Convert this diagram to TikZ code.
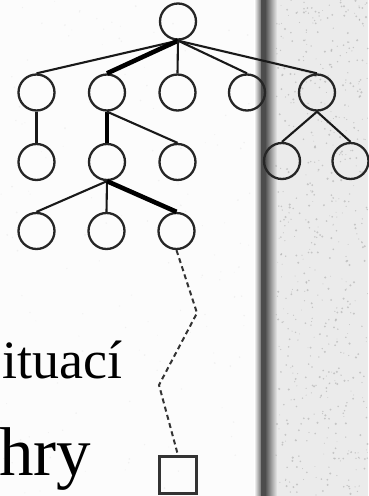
\documentclass[tikz,border=0pt]{standalone}
\usepackage{fontspec}
\setmainfont{Liberation Serif}
\begin{document}
\begin{tikzpicture}[x=1pt,y=-1pt,
  treenode/.style={circle,draw=black!85,line width=2.3pt,minimum size=36pt,inner sep=0pt},
  leafbox/.style={rectangle,draw=black!80,line width=2.4pt,minimum size=37pt,inner sep=0pt},
  edge/.style={draw=black!90,line width=2.1pt},
  bold edge/.style={draw=black,line width=4.6pt},
  trail/.style={draw=black!80,line width=2pt,dash pattern=on 5pt off 3.5pt},
  bigtext/.style={inner sep=0pt,anchor=base west,text=black}]
\useasboundingbox (0,0) rectangle (368,496);

% paper and the grey side panel with its shadowed edge
\fill[white!99!black] (0,0) rectangle (368,496);
\fill[black!8] (262,0) rectangle (368,496);
\shade[left color=white,right color=black!55] (254,0) rectangle (261,496);
\fill[black!70] (261,0) rectangle (265,496);
\shade[left color=black!70,right color=black!8] (265,0) rectangle (277,496);

% speckled texture on the panel
\pgfmathsetseed{4242}
\foreach \k in {1,...,600}{
  \fill[black!35,opacity=0.55] ({276+rnd*92},{rnd*496}) circle ({0.4+rnd*0.8});
}
\foreach \k in {1,...,160}{
  \fill[black!10,opacity=0.5] ({rnd*254},{rnd*496}) circle ({0.4+rnd*0.6});
}

% game tree
\node[treenode] (r)  at (178,21.5) {};
\node[treenode] (a1) at (36.5,92.5) {};
\node[treenode] (a2) at (107,92.5) {};
\node[treenode] (a3) at (177.5,92.5) {};
\node[treenode] (a4) at (247,92.5) {};
\node[treenode] (a5) at (317,92.5) {};
\node[treenode] (b1) at (36.5,162) {};
\node[treenode] (b2) at (107,162) {};
\node[treenode] (b3) at (177.5,162) {};
\node[treenode] (b4) at (282,161) {};
\node[treenode] (b5) at (350.5,161) {};
\node[treenode] (c1) at (36.5,231) {};
\node[treenode] (c2) at (106.5,231) {};
\node[treenode] (c3) at (176.5,231) {};
\node[leafbox]  (sq) at (178,475) {};

\draw[edge] (r.south) -- (a1.north);
\draw[bold edge] (r.south) -- (a2.north);
\draw[edge] (r.south) -- (a3.north);
\draw[edge] (r.south) -- (a4.north);
\draw[edge] (r.south) -- (a5.north);
\draw[edge] (a1.south) -- (b1.north);
\draw[bold edge] (a2.south) -- (b2.north);
\draw[edge] (a2.south) -- (b3.north);
\draw[edge] (a5.south) -- (b4.north);
\draw[edge] (a5.south) -- (b5.north);
\draw[edge] (b2.south) -- (c1.north);
\draw[edge] (b2.south) -- (c2.north);
\draw[bold edge] (b2.south) -- (c3.north);

% long play down to the terminal position
\coordinate (w1) at (197,313);
\coordinate (w2) at (159,385);
\draw[trail] (c3.south) -- (w1) -- (w2) -- (sq.north);

% text
\node[bigtext,font=\fontsize{54}{60}\selectfont] (t1) at (2,378) {ituací};
\node[bigtext,font=\fontsize{69}{76}\selectfont] (t2) at (-1,475) {hry};
\end{tikzpicture}
\end{document}
